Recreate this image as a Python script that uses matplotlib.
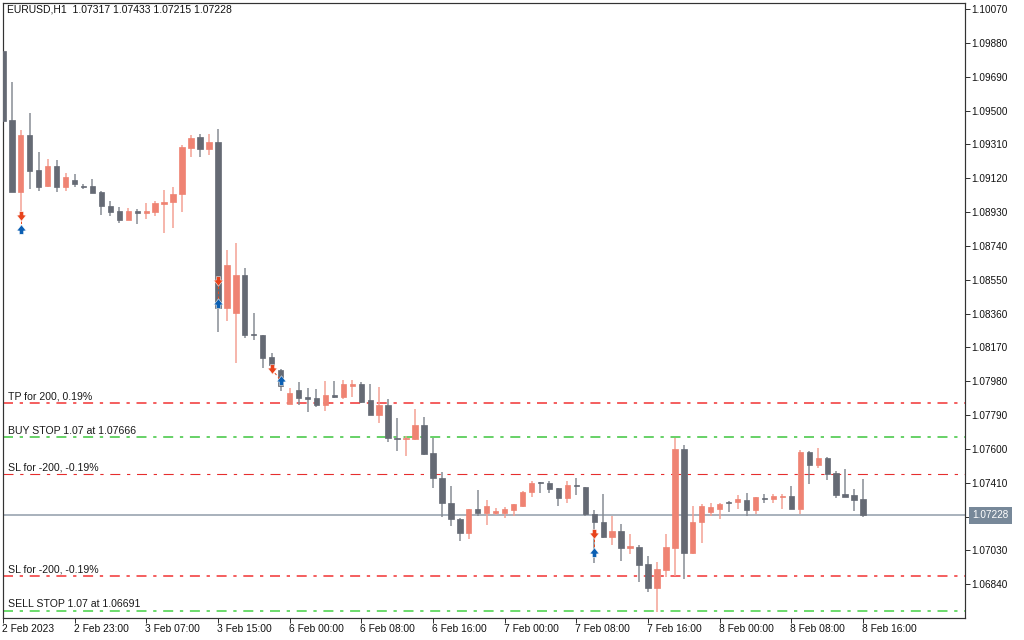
import matplotlib
matplotlib.use('Agg')
import matplotlib.pyplot as plt
from matplotlib.path import Path
from matplotlib.transforms import ScaledTranslation

opens = [1.09836, 1.09445, 1.09042, 1.09363, 1.09166, 1.09076, 1.09188, 1.09072, 1.09110, 1.09076,
         1.09076, 1.09042, 1.08964, 1.08936, 1.08887, 1.08936, 1.08925, 1.08930, 1.08973, 1.08988,
         1.09031, 1.09291, 1.09350, 1.09286, 1.09325, 1.08391, 1.08361, 1.08578, 1.08245, 1.08238,
         1.08116, 1.08043, 1.07852, 1.07931, 1.07890, 1.07884, 1.07845, 1.07903, 1.07891, 1.07955,
         1.07963, 1.07873, 1.07790, 1.07848, 1.07663, 1.07656, 1.07654, 1.07732, 1.07575, 1.07438,
         1.07294, 1.07208, 1.07128, 1.07261, 1.07240, 1.07242, 1.07240, 1.07257, 1.07279, 1.07358,
         1.07414, 1.07410, 1.07378, 1.07324, 1.07397, 1.07386, 1.07236, 1.07189, 1.07103, 1.07137,
         1.07045, 1.07049, 1.06954, 1.06819, 1.06920, 1.07043, 1.07599, 1.07014, 1.07188, 1.07246,
         1.07262, 1.07303, 1.07300, 1.07313, 1.07257, 1.07326, 1.07317, 1.07328, 1.07334, 1.07262,
         1.07582, 1.07511, 1.07547, 1.07463, 1.07345, 1.07339, 1.07317]
highs = [1.09836, 1.09658, 1.09391, 1.09486, 1.09267, 1.09226, 1.09220, 1.09147, 1.09143, 1.09087,
         1.09114, 1.09046, 1.08994, 1.08960, 1.08953, 1.08945, 1.08982, 1.08992, 1.09052, 1.09070,
         1.09308, 1.09363, 1.09368, 1.09368, 1.09396, 1.08717, 1.08754, 1.08614, 1.08365, 1.08241,
         1.08138, 1.08047, 1.07942, 1.07974, 1.07944, 1.07938, 1.07980, 1.07980, 1.07987, 1.07987,
         1.07974, 1.07963, 1.07949, 1.07880, 1.07773, 1.07672, 1.07826, 1.07777, 1.07663, 1.07472,
         1.07392, 1.07210, 1.07261, 1.07369, 1.07311, 1.07266, 1.07272, 1.07291, 1.07364, 1.07421,
         1.07416, 1.07421, 1.07380, 1.07418, 1.07435, 1.07388, 1.07255, 1.07345, 1.07225, 1.07178,
         1.07120, 1.07059, 1.06997, 1.06965, 1.07120, 1.07663, 1.07624, 1.07279, 1.07291, 1.07296,
         1.07294, 1.07307, 1.07339, 1.07351, 1.07328, 1.07345, 1.07345, 1.07345, 1.07392, 1.07594,
         1.07586, 1.07605, 1.07553, 1.07474, 1.07487, 1.07373, 1.07433]
lows = [1.09443, 1.09042, 1.08919, 1.09061, 1.09048, 1.09069, 1.09042, 1.09048, 1.09072, 1.09059,
        1.09037, 1.08912, 1.08906, 1.08868, 1.08887, 1.08863, 1.08889, 1.08906, 1.08811, 1.08840,
        1.08930, 1.09239, 1.09237, 1.09250, 1.08255, 1.08320, 1.08084, 1.08224, 1.08213, 1.08053,
        1.08026, 1.07927, 1.07852, 1.07845, 1.07809, 1.07837, 1.07814, 1.07887, 1.07880, 1.07893,
        1.07856, 1.07790, 1.07744, 1.07640, 1.07590, 1.07560, 1.07650, 1.07567, 1.07382, 1.07216,
        1.07167, 1.07085, 1.07096, 1.07223, 1.07173, 1.07227, 1.07210, 1.07223, 1.07274, 1.07330,
        1.07352, 1.07352, 1.07279, 1.07296, 1.07339, 1.07223, 1.06959, 1.07098, 1.07060, 1.06970,
        1.07008, 1.06853, 1.06795, 1.06684, 1.06881, 1.06886, 1.06868, 1.07008, 1.07072, 1.07223,
        1.07205, 1.07246, 1.07262, 1.07223, 1.07234, 1.07296, 1.07296, 1.07262, 1.07262, 1.07234,
        1.07404, 1.07494, 1.07424, 1.07322, 1.07328, 1.07253, 1.07215]
closes = [1.09443, 1.09042, 1.09363, 1.09160, 1.09072, 1.09188, 1.09072, 1.09128, 1.09089, 1.09070,
          1.09037, 1.08965, 1.08930, 1.08887, 1.08934, 1.08926, 1.08934, 1.08981, 1.08988, 1.09030,
          1.09297, 1.09344, 1.09286, 1.09325, 1.08393, 1.08633, 1.08578, 1.08241, 1.08238, 1.08112,
          1.08071, 1.07955, 1.07912, 1.07887, 1.07880, 1.07845, 1.07901, 1.07891, 1.07963, 1.07964,
          1.07862, 1.07790, 1.07848, 1.07659, 1.07656, 1.07663, 1.07732, 1.07571, 1.07435, 1.07295,
          1.07205, 1.07128, 1.07261, 1.07240, 1.07279, 1.07251, 1.07262, 1.07291, 1.07358, 1.07410,
          1.07408, 1.07375, 1.07324, 1.07397, 1.07390, 1.07234, 1.07188, 1.07103, 1.07137, 1.07043,
          1.07053, 1.06948, 1.06819, 1.06924, 1.07049, 1.07599, 1.07014, 1.07189, 1.07279, 1.07274,
          1.07291, 1.07294, 1.07320, 1.07257, 1.07328, 1.07317, 1.07334, 1.07335, 1.07262, 1.07582,
          1.07511, 1.07547, 1.07461, 1.07341, 1.07328, 1.07311, 1.07228]

date_ticks = [0, 8, 16, 24, 32, 40, 48, 56, 64, 72, 80, 88, 96]
date_labels = ['2 Feb 2023', '2 Feb 23:00', '3 Feb 07:00', '3 Feb 15:00', '6 Feb 00:00', '6 Feb 08:00',
               '6 Feb 16:00', '7 Feb 00:00', '7 Feb 08:00', '7 Feb 16:00', '8 Feb 00:00', '8 Feb 08:00',
               '8 Feb 16:00']
price_ticks = [1.10070, 1.09880, 1.09690, 1.09500, 1.09310, 1.09120, 1.08930, 1.08740, 1.08550, 1.08360,
               1.08170, 1.07980, 1.07790, 1.07600, 1.07410, 1.07220, 1.07030, 1.06840]

order_prices = [1.07859, 1.07666, 1.07461, 1.06886, 1.06691]
order_labels = ['TP for 200, 0.19%', 'BUY STOP 1.07 at 1.07666', 'SL for -200, -0.19%',
                'SL for -200, -0.19%', 'SELL STOP 1.07 at 1.06691']
order_colors = ['#f23c3c', '#46c846', '#e62e2e', '#f23c3c', '#6fdc6f']
order_widths = [1.6, 1.6, 1.1, 1.6, 2.0]
last_price = 1.07228

deal_in_x = [2, 24, 30, 66]
deal_in_y = [1.08908, 1.08544, 1.08047, 1.07122]
deal_out_x = [2, 24, 31, 66]
deal_out_y = [1.08835, 1.08421, 1.07987, 1.07019]

BULL = '#ef8373'
BEAR = '#656a74'
BULL_WICK = '#f4a093'
BEAR_WICK = '#858a92'

plt.rcParams['font.family'] = ['Liberation Sans', 'DejaVu Sans']
plt.rcParams['font.size'] = 10

# dpi 72 so that one point is one pixel
fig = plt.figure(figsize=(1024 / 72, 640 / 72), dpi=72, facecolor='white')
ax = fig.add_axes([2.5 / 1024, 1 - 618 / 640, (965 - 2.5) / 1024, (618 - 2.5) / 640])
ax.set_xlim(-0.04, 107.38)
ax.set_ylim(1.066504, 1.101065)

for price, color, width in zip(order_prices, order_colors, order_widths):
    # dash lengths get scaled by the line width, so undo that
    dashes = (10 / width, 6.7 / width, 3.3 / width, 6.7 / width)
    ax.axhline(price, color=color, lw=width, zorder=1, linestyle=(0, dashes))
ax.axhline(last_price, color='#8f9aa8', lw=1.5, zorder=1)

xs = list(range(len(opens)))
body_bottom = [min(o, c) for o, c in zip(opens, closes)]
body_height = [abs(c - o) for o, c in zip(opens, closes)]
body_colors = [BULL if c > o else BEAR for o, c in zip(opens, closes)]
wick_colors = [BULL_WICK if c > o else BEAR_WICK for o, c in zip(opens, closes)]
ax.vlines(xs, lows, highs, colors=wick_colors, lw=1.5, zorder=2)
ax.bar(xs, body_height, 0.6, bottom=body_bottom, color=body_colors, edgecolor=body_colors, lw=0.7, zorder=3)

# little block arrows for the deals
down_arrow = Path([(-0.45, 1), (0.45, 1), (0.45, 0.3), (1, 0.3), (0, -1), (-1, 0.3), (-0.45, 0.3), (-0.45, 1)])
up_arrow = Path([(-0.45, -1), (0.45, -1), (0.45, -0.3), (1, -0.3), (0, 1), (-1, -0.3), (-0.45, -0.3), (-0.45, -1)])
for x0, y0, x1, y1 in zip(deal_in_x, deal_in_y, deal_out_x, deal_out_y):
    ax.plot([x0, x1], [y0, y1], color='#e84a1e', lw=1, linestyle=(0, (2.5, 2.5)), zorder=4)
ax.scatter(deal_in_x, deal_in_y, marker=down_arrow, s=90, color='#e8431c', edgecolors='white', linewidths=0.5, zorder=5)
ax.scatter(deal_out_x, deal_out_y, marker=up_arrow, s=90, color='#0b5fb3', edgecolors='white', linewidths=0.5, zorder=5)

for price, label in zip(order_prices, order_labels):
    ax.annotate(label, xy=(0, price), xycoords=('axes fraction', 'data'), xytext=(6, 1.5), fontsize=10.5,
                textcoords='offset points', ha='left', va='bottom', color='#1a1a1a', zorder=6)

ax.annotate('EURUSD,H1  1.07317 1.07433 1.07215 1.07228', xy=(0, 1), xycoords='axes fraction', xytext=(4.5, -7.5),
            textcoords='offset points', ha='left', va='center', color='#111111', fontsize=10.4)

for side in ['top', 'bottom', 'left', 'right']:
    ax.spines[side].set_color('#333333')
    ax.spines[side].set_linewidth(1.2)

ax.yaxis.tick_right()
ax.set_yticks(price_ticks)
ax.set_yticklabels(['' if p == 1.07220 else '%.5f' % p for p in price_ticks])
ax.tick_params(axis='y', length=4.5, width=1, color='#333333', pad=2, labelcolor='#111111')
ax.set_xticks(date_ticks)
ax.set_xticklabels(date_labels, ha='left', fontsize=10.3)
ax.tick_params(axis='x', length=4.5, width=1, color='#333333', pad=1.5, labelcolor='#111111')
shift = ScaledTranslation(-1 / 72, 0, fig.dpi_scale_trans)
for lab in ax.get_xticklabels():
    lab.set_transform(lab.get_transform() + shift)

ax.annotate('%.5f' % last_price, xy=(1, last_price), xycoords=('axes fraction', 'data'), xytext=(7, 0),
            textcoords='offset points', ha='left', va='center', color='white', zorder=7, annotation_clip=False,
            bbox=dict(boxstyle='square,pad=0.35', facecolor='#778899', edgecolor='none'))

fig.savefig('out.png', dpi=72)
